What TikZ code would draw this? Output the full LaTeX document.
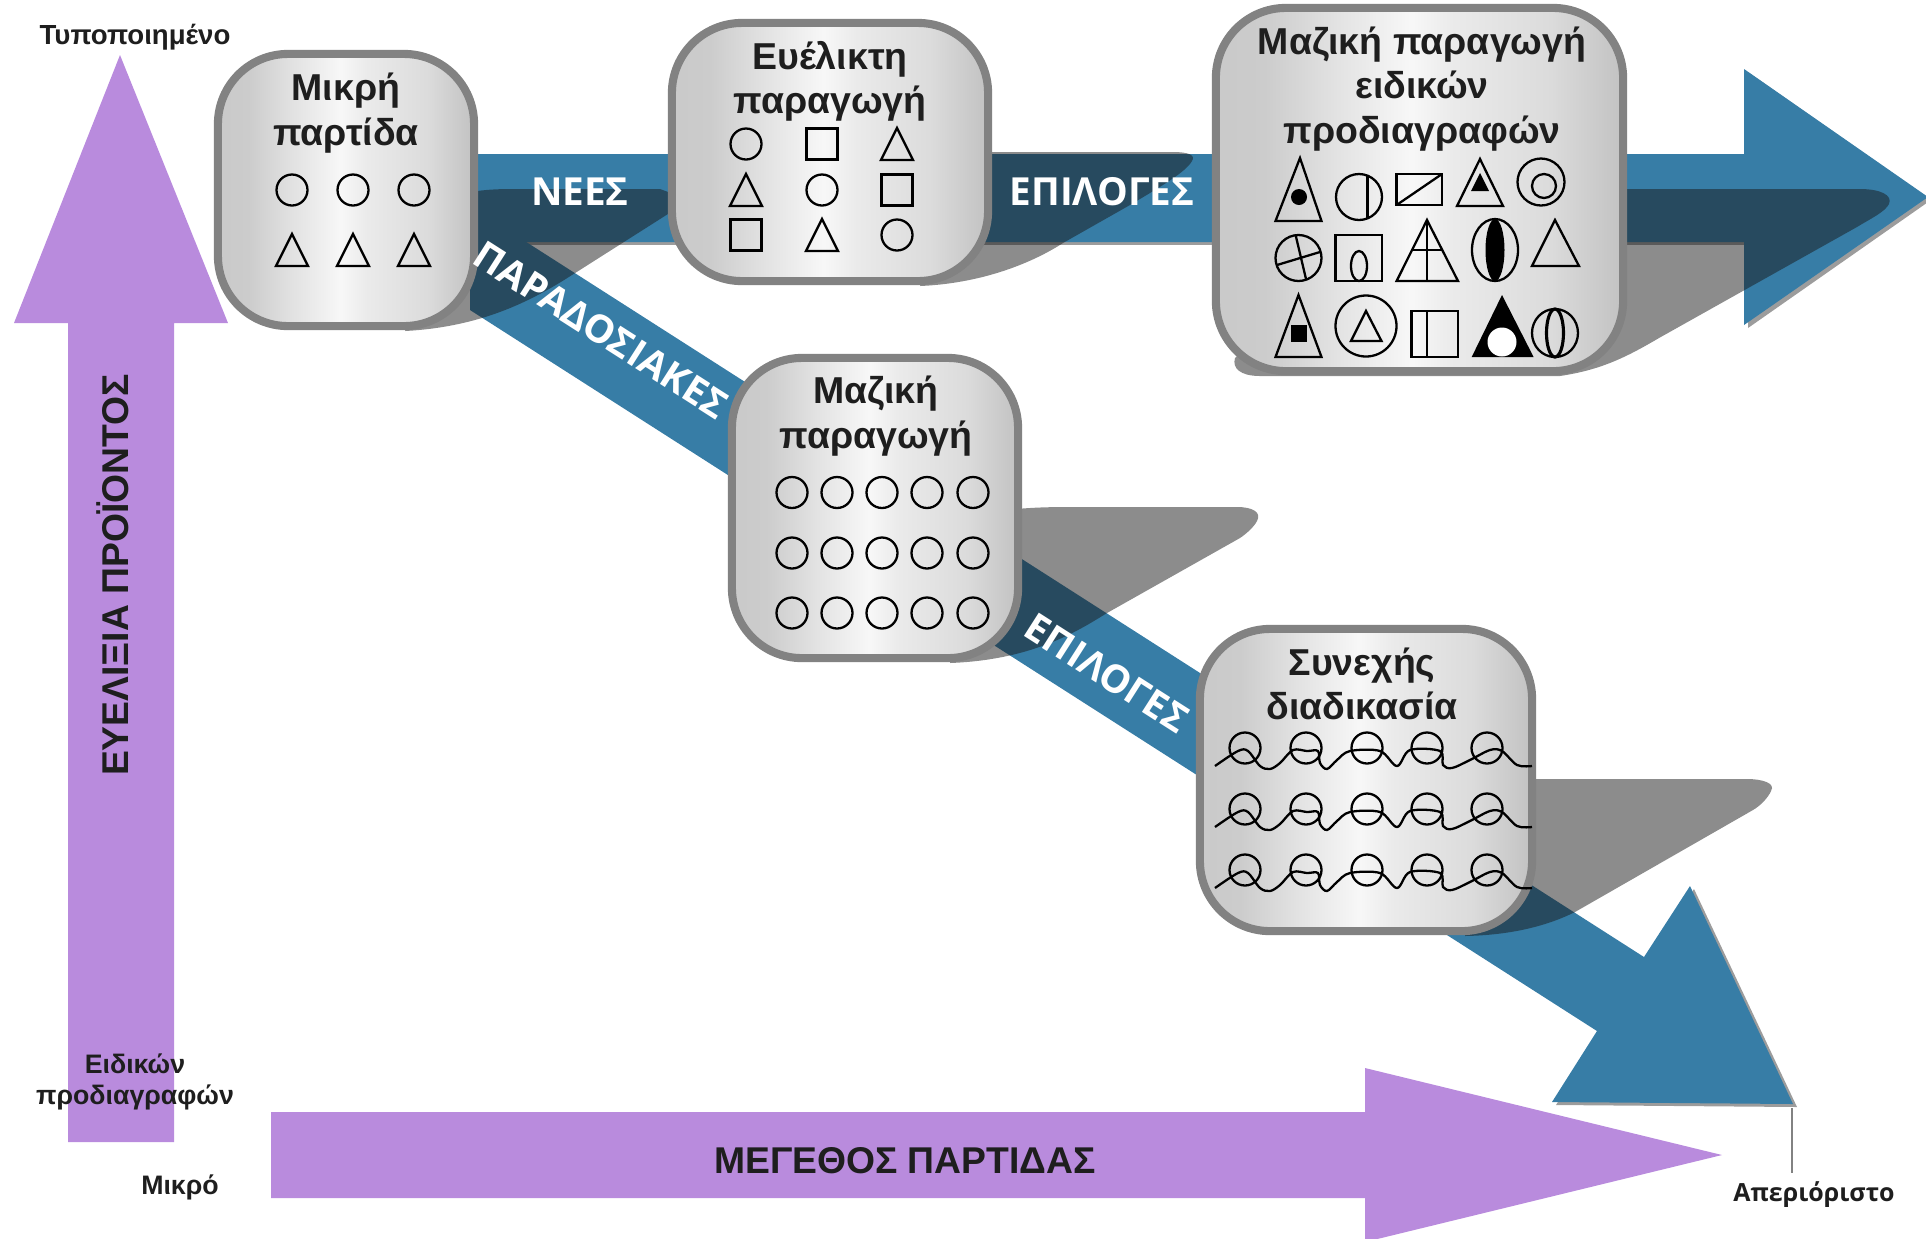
\documentclass[tikz,border=0pt]{standalone}
\usepackage{fontspec}
\setmainfont{Liberation Sans}
\newfontfamily\bandfont{Open Sans}

\definecolor{bandblue}{HTML}{377DA6}
\definecolor{axispurple}{HTML}{B98BDD}
\definecolor{framegray}{HTML}{828282}
\definecolor{edgegray}{HTML}{9C9C9C}
\definecolor{inktext}{HTML}{1E1E1E}
\definecolor{shadowink}{HTML}{191919}

\pgfdeclarehorizontalshading{boxmetal}{100bp}{
  color(0bp)=(black!21); color(25bp)=(black!21); color(31bp)=(black!20); color(40bp)=(black!11);
  color(49bp)=(black!3); color(54bp)=(black!8); color(66bp)=(black!14); color(75bp)=(black!24); color(100bp)=(black!24)}

\tikzset{
  stagebox/.style={draw=framegray, line width=2.3pt, shade, shading=boxmetal, rectangle,
    rounded corners=0.7cm, inner sep=0pt, outer sep=0pt},
  stagetitle/.style={align=center, inner sep=0pt, text=inktext,
    font=\fontsize{10.65}{12.6}\selectfont\bfseries},
  axislabel/.style={align=center, inner sep=0pt, text=inktext,
    font=\fontsize{7.6}{8.8}\selectfont\bfseries},
  axistitle/.style={inner sep=0pt, text=inktext, font=\fontsize{10.6}{12}\selectfont\bfseries},
  bandlabel/.style={inner sep=0pt, text=white, font=\bandfont\fontsize{11}{12}\selectfont\bfseries},
  dropshadow/.style={fill=shadowink, fill opacity=0.5},
  symline/.style={draw=black, line width=0.65pt},
  symcirc/.pic={\draw[symline] (0,0) circle [radius=15.5];},
  symsq/.pic={\draw[symline] (-15.5,-15.5) rectangle (15.5,15.5);},
  symtri/.pic={\draw[symline] (0,-16) -- (16,16) -- (-16,16) -- cycle;},
  wavyrow/.pic={
    \foreach \wx in {1245,1306,1367,1427,1487}
      \draw[symline] (\wx,0) circle [radius=15.5];
    \draw[symline] plot[smooth, tension=0.55] coordinates {(1215,18) (1238,3) (1248,3) (1260,18) (1270,21)
      (1280,15) (1293,2) (1307,3) (1318,3) (1320,15) (1327,21) (1337,12) (1350,3) (1380,3) (1397,18)
      (1410,2) (1440,3) (1443,17) (1452,20) (1470,12) (1490,2) (1502,3) (1517,17) (1532,18)};
  },
}

\begin{document}
\begin{tikzpicture}[x=0.01cm, y=-0.01cm]

\clip (0,0) rectangle (1926,1238);

% axes
\fill[axispurple] (120,55) -- (228,323) -- (174,323) -- (174,1142) -- (68,1142) -- (68,323) -- (14,323) -- cycle;
\fill[axispurple] (271,1112) -- (1365,1112) -- (1365,1068) -- (1722,1155) -- (1365,1242) -- (1365,1198) -- (271,1198) -- cycle;

% bands
\fill[edgegray] (470,245) rectangle (1748,240);
\fill[edgegray] (1748,72) -- (1931,200) -- (1748,328) -- cycle;
\fill[edgegray] (1694,889) -- (1797,1107) -- (1556,1105) -- cycle;
\fill[bandblue] (470,154) -- (1744,154) -- (1744,69) -- (1928,197) -- (1744,325) -- (1744,242) -- (470,242) -- cycle;
\fill[bandblue] (470,206) -- (1644,957) -- (1690,886) -- (1793,1104) -- (1552,1102) -- (1597,1031) -- (470,310) -- cycle;

% shadows
\fill[dropshadow] (470,192) .. controls (490,189) and (500,189) .. (520,189) -- (660,189) -- (690,200)
  -- (572,275) .. controls (530,302) and (480,327) .. (405,331) -- cycle;
\fill[dropshadow] (970,152) -- (1173,152) .. controls (1188,152) and (1196,155) .. (1192,161)
  .. controls (1186,172) and (1160,187) .. (1130,205) -- (1063,243) .. controls (1040,258) and (990,283) .. (920,286) -- cycle;
\fill[dropshadow] (990,512) .. controls (1020,508) and (1040,507) .. (1070,507) -- (1237,507)
  .. controls (1252,507) and (1262,512) .. (1257,521) .. controls (1254,527) and (1246,534) .. (1240,538)
  -- (1107,613) .. controls (1075,633) and (1030,660) .. (950,663) -- cycle;
\fill[dropshadow] (1500,779) -- (1747,779) .. controls (1762,779) and (1776,783) .. (1771,791)
  .. controls (1768,798) and (1760,806) .. (1753,810) -- (1575,912) .. controls (1555,922) and (1520,935) .. (1465,936) -- cycle;
\fill[dropshadow] (1600,189) -- (1860,189) .. controls (1880,189) and (1893,195) .. (1889,204)
  .. controls (1885,212) and (1870,219) .. (1857,227) -- (1659,338) .. controls (1625,358) and (1600,370) .. (1560,376)
  -- (1260,376) .. controls (1240,376) and (1232,368) .. (1235,358) -- (1300,300) -- cycle;

% boxes
\node(mikri)[stagebox, minimum width=2.56cm, minimum height=2.72cm] at (346,190) {};
\node(evelikti)[stagebox, minimum width=3.16cm, minimum height=2.58cm] at (830,152) {};
\node(eidikes)[stagebox, minimum width=4.07cm, minimum height=3.63cm] at (1419.5,189.5) {};
\node(maziki)[stagebox, minimum width=2.86cm, minimum height=3.00cm] at (875,508) {};
\node(synechis)[stagebox, minimum width=3.32cm, minimum height=3.02cm] at (1366,780) {};

\node(mikrititle)[stagetitle] at (346,113) {Μικρή\\παρτίδα};
\node(eveliktititle)[stagetitle] at (830,81) {Ευέλικτη\\παραγωγή};
\node(eidikestitle)[stagetitle] at (1422,89) {Μαζική παραγωγή\\ειδικών\\προδιαγραφών};
\node(mazikititle)[stagetitle] at (876,416) {Μαζική\\παραγωγή};
\node(synechistitle)[stagetitle] at (1362,684) {Συνεχής\\διαδικασία};

% small batch
\foreach \px in {292,353,414} {
  \pic at (\px,190) {symcirc};
  \pic at (\px,250) {symtri};
}

% flexible
\foreach \px/\py/\psym in {746/144/symcirc, 822/144/symsq, 897/144/symtri,
    746/190/symtri, 822/190/symcirc, 897/190/symsq,
    746/235/symsq, 822/235/symtri, 897/235/symcirc}
  \pic at (\px,\py) {\psym};

% mass
\foreach \px in {792,837,882,927,973}
  \foreach \py in {492.5,553,613}
    \pic at (\px,\py) {symcirc};

% continuous
\foreach \py in {748,809,870}
  \pic at (0,\py) {wavyrow};

% custom, row 1
\draw[symline] (1300,158) -- (1321.5,221) -- (1275.5,221) -- cycle;
\fill (1299,197) circle [radius=8];
\draw[symline] (1359,197) circle [radius=23];
\draw[symline] (1367.5,175.6) -- (1367.5,218.4);
\draw[symline] (1396.6,174) rectangle (1442,205);
\draw[symline] (1396.6,205) -- (1442,174);
\draw[symline] (1480,159) -- (1503,206) -- (1457,206) -- cycle;
\fill (1480,173) -- (1489,191) -- (1471,191) -- cycle;
\draw[symline] (1541,182) circle [radius=23.5];
\draw[symline] (1544,186) circle [radius=12];

% custom, row 2
\draw[symline] (1298.5,258) circle [radius=23];
\draw[symline] (1277,265) -- (1320,252);
\draw[symline] (1295.6,235) -- (1306,279);
\draw[symline] (1335.5,235) rectangle (1382,281);
\draw[symline] (1359,266) ellipse [x radius=8, y radius=15];
\draw[symline] (1427,220) -- (1458,281) -- (1396.6,281) -- cycle;
\draw[symline] (1427,220) -- (1427,281);
\draw[symline] (1412,250) -- (1442,250);
\draw[symline] (1495,250) ellipse [x radius=23, y radius=31];
\fill (1495,250) ellipse [x radius=9.5, y radius=31];
\draw[symline] (1555,220) -- (1579,266) -- (1532,266) -- cycle;

% custom, row 3
\draw[symline] (1298.5,295) -- (1321.5,357) -- (1275.5,357) -- cycle;
\fill (1290.5,325) rectangle (1307,342);
\draw[symline] (1366,326) circle [radius=30.5];
\draw[symline] (1366,311) -- (1381.5,341) -- (1351,341) -- cycle;
\draw[symline] (1411.6,311) rectangle (1458,357);
\draw[symline] (1427,311) -- (1427,357);
\fill (1502,295) -- (1533.6,357) -- (1471.7,357) -- cycle;
\fill[white] (1502,342) circle [radius=14.5];
\draw[symline] (1555,333) ellipse [x radius=23, y radius=24];
\draw[symline, line width=0.9pt] (1555,333) ellipse [x radius=8.5, y radius=24];

% band and axis text
\node(nees)[bandlabel] at (580,192) {ΝΕΕΣ};
\node(epiloges)[bandlabel] at (1102,192) {ΕΠΙΛΟΓΕΣ};
\node(paradosiakes)[bandlabel, rotate=-32.6] at (601,330) {ΠΑΡΑΔΟΣΙΑΚΕΣ};
\node(epilogesdiag)[bandlabel, rotate=-32.6] at (1107,673) {ΕΠΙΛΟΓΕΣ};

\node(yaxis)[axistitle, rotate=90] at (113,575) {ΕΥΕΛΙΞΙΑ ΠΡΟΪΟΝΤΟΣ};
\node(xaxis)[axistitle] at (905,1161) {ΜΕΓΕΘΟΣ ΠΑΡΤΙΔΑΣ};

\node(typical)[axislabel, font=\fontsize{7.85}{9}\selectfont\bfseries] at (135,37) {Τυποποιημένο};
\node(custom)[axislabel] at (135,1082) {Ειδικών\\προδιαγραφών};
\node(small)[axislabel] at (180,1187) {Μικρό};
\node(unlimited)[inner sep=0pt, text=inktext, font=\bandfont\fontsize{7.1}{9}\selectfont\bfseries] at (1814,1195) {Απεριόριστο};

\coordinate(limittop) at (1792,1108);
\coordinate(limitend) at (1792,1173);
\draw[framegray, line width=0.35pt] (limittop) -- (limitend);

\end{tikzpicture}
\end{document}
